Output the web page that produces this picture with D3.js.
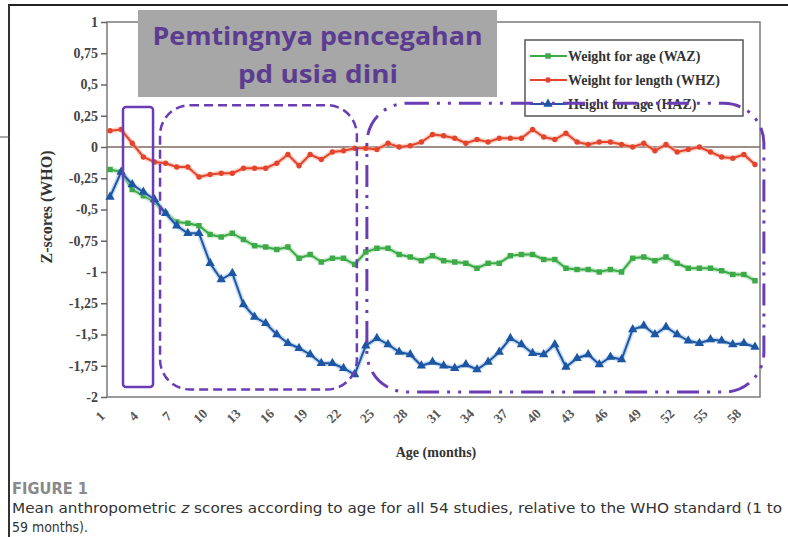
<!DOCTYPE html>
<html>
<head>
<meta charset="utf-8">
<script src="https://cdn.jsdelivr.net/npm/d3@7"></script>
<style>
  body { margin: 0; background: #fff; }
  svg { display: block; }
</style>
</head>
<body>
<div id="chart"></div>
<script>
// Mean anthropometric z scores by age, WHO standard (1 to 59 months)

var months = d3.range(1, 60);

var seriesNames = ["Weight for age (WAZ)", "Weight for length (WHZ)", "Height for age (HAZ)"];

var wazValues = [-0.18, -0.20, -0.34, -0.39, -0.44, -0.53, -0.60, -0.61, -0.63, -0.70,
  -0.72, -0.69, -0.74, -0.79, -0.80, -0.82, -0.80, -0.89, -0.86, -0.92,
  -0.89, -0.89, -0.94, -0.84, -0.81, -0.81, -0.86, -0.88, -0.91, -0.87,
  -0.91, -0.92, -0.93, -0.97, -0.93, -0.93, -0.87, -0.86, -0.86, -0.90,
  -0.90, -0.97, -0.98, -0.98, -1.00, -0.98, -1.00, -0.89, -0.88, -0.91,
  -0.88, -0.93, -0.97, -0.97, -0.97, -0.99, -1.02, -1.02, -1.07];

var whzValues = [0.13, 0.14, 0.03, -0.08, -0.12, -0.13, -0.16, -0.16, -0.24, -0.22,
  -0.21, -0.21, -0.17, -0.17, -0.17, -0.13, -0.06, -0.15, -0.06, -0.10,
  -0.04, -0.03, -0.01, -0.01, -0.02, 0.03, 0.00, 0.01, 0.04, 0.10,
  0.09, 0.07, 0.03, 0.06, 0.04, 0.07, 0.07, 0.07, 0.14, 0.08,
  0.06, 0.11, 0.04, 0.02, 0.04, 0.04, 0.02, 0.00, 0.03, -0.03,
  0.02, -0.04, -0.02, 0.00, -0.04, -0.08, -0.09, -0.06, -0.14];

var hazValues = [-0.40, -0.20, -0.30, -0.36, -0.42, -0.53, -0.63, -0.69, -0.69, -0.93,
  -1.06, -1.01, -1.26, -1.36, -1.41, -1.50, -1.57, -1.61, -1.66, -1.73,
  -1.73, -1.77, -1.82, -1.59, -1.53, -1.58, -1.64, -1.66, -1.75, -1.72,
  -1.75, -1.77, -1.74, -1.78, -1.72, -1.64, -1.53, -1.58, -1.65, -1.66,
  -1.58, -1.76, -1.69, -1.66, -1.74, -1.68, -1.70, -1.46, -1.43, -1.50,
  -1.44, -1.50, -1.55, -1.57, -1.54, -1.55, -1.58, -1.57, -1.60];

var yTicks = [1, 0.75, 0.5, 0.25, 0, -0.25, -0.5, -0.75, -1, -1.25, -1.5, -1.75, -2];
var yTickLabels = ["1", "0,75", "0,5", "0,25", "0", "-0,25", "-0,5", "-0,75", "-1", "-1,25", "-1,5", "-1,75", "-2"];
var xTickMonths = [1, 4, 7, 10, 13, 16, 19, 22, 25, 28, 31, 34, 37, 40, 43, 46, 49, 52, 55, 58];

var width = 788, height = 537;
var plot = {left: 107, right: 760, top: 22, bottom: 397};
var serif = "'Liberation Serif', 'Times New Roman', serif";
var purple = "#6a3db5";

var svg = d3.select("#chart")
  .append("svg")
    .attr("width", width)
    .attr("height", height);

// page frame pieces around the figure
svg.append("line").attr("x1", 8).attr("x2", width).attr("y1", 5).attr("y2", 5)
  .attr("stroke", "#222").attr("stroke-width", 2);
svg.append("line").attr("x1", 9).attr("x2", 9).attr("y1", 5).attr("y2", height)
  .attr("stroke", "#333").attr("stroke-width", 2);
svg.append("line").attr("x1", 0).attr("x2", 9).attr("y1", 137).attr("y2", 137)
  .attr("stroke", "#555").attr("stroke-width", 1);

// scales
var x = d3.scalePoint()
  .domain(months)
  .range([110, 755]);

var y = d3.scaleLinear()
  .domain([-2, 1])
  .range([plot.bottom, plot.top]);

// plot frame
svg.append("rect")
  .attr("x", plot.left).attr("y", plot.top)
  .attr("width", plot.right - plot.left).attr("height", plot.bottom - plot.top)
  .attr("fill", "none").attr("stroke", "#7a7a7a").attr("stroke-width", 1.5);

// zero line
svg.append("line")
  .attr("x1", plot.left).attr("x2", plot.right)
  .attr("y1", y(0)).attr("y2", y(0))
  .attr("stroke", "#7d6a60").attr("stroke-width", 1.5);

// y axis
var yAxis = svg.append("g")
  .attr("transform", "translate(" + plot.left + ",0)")
  .call(d3.axisLeft(y).tickValues(yTicks).tickSize(6).tickPadding(3)
    .tickFormat(function(d, i) { return yTickLabels[i]; }));
yAxis.select(".domain").remove();
yAxis.selectAll(".tick line").attr("stroke", "#666").attr("stroke-width", 1.5);
yAxis.selectAll(".tick text")
  .style("font-family", serif).style("font-size", "14px").style("font-weight", "bold")
  .attr("fill", "#444");

// x tick labels, rotated
svg.append("g").selectAll("text")
  .data(xTickMonths)
  .enter()
  .append("text")
    .attr("transform", function(d) { return "translate(" + (x(d) - 10) + ",416) rotate(-45)"; })
    .attr("text-anchor", "middle")
    .attr("dy", "0.35em")
    .style("font-family", serif).style("font-size", "13.5px").style("font-weight", "bold")
    .attr("fill", "#555")
    .text(function(d) { return d; });

// axis titles
svg.append("text")
  .attr("x", 436).attr("y", 457)
  .attr("text-anchor", "middle")
  .style("font-family", serif).style("font-size", "14px").style("font-weight", "bold")
  .attr("fill", "#333")
  .text("Age (months)");

svg.append("text")
  .attr("transform", "translate(52,207) rotate(-90)")
  .attr("text-anchor", "middle")
  .style("font-family", serif).style("font-size", "16px").style("font-weight", "bold")
  .attr("fill", "#333")
  .text("Z-scores (WHO)");

// series
var series = [
  {name: seriesNames[0], values: wazValues, color: "#3daa48", glow: "#a6dcaa", symbol: d3.symbolSquare, size: 30},
  {name: seriesNames[1], values: whzValues, color: "#e4442b", glow: "#f5b0a2", symbol: d3.symbolCircle, size: 22},
  {name: seriesNames[2], values: hazValues, color: "#1d56a3", glow: "#9fc2e8", symbol: d3.symbolTriangle, size: 38}
];

var line = d3.line()
  .x(function(d, i) { return x(months[i]); })
  .y(function(d) { return y(d); });

series.forEach(function(s) {
  var g = svg.append("g");
  g.append("path")
    .attr("d", line(s.values))
    .attr("fill", "none").attr("stroke", s.glow).attr("stroke-width", 5).attr("opacity", 0.6);
  g.append("path")
    .attr("d", line(s.values))
    .attr("fill", "none").attr("stroke", s.color).attr("stroke-width", 2);
  g.selectAll("path.pt")
    .data(s.values)
    .enter()
    .append("path")
      .attr("class", "pt")
      .attr("d", d3.symbol().type(s.symbol).size(s.size))
      .attr("transform", function(d, i) { return "translate(" + x(months[i]) + "," + y(d) + ")"; })
      .attr("fill", s.color);
});

// legend
var legend = svg.append("g");
legend.append("rect")
  .attr("x", 525).attr("y", 40).attr("width", 218).attr("height", 76)
  .attr("fill", "#fff").attr("stroke", "#555").attr("stroke-width", 1.5);
series.forEach(function(s, i) {
  var ly = 56 + i * 24;
  legend.append("line")
    .attr("x1", 530).attr("x2", 567).attr("y1", ly).attr("y2", ly)
    .attr("stroke", s.color).attr("stroke-width", 2);
  legend.append("path")
    .attr("d", d3.symbol().type(s.symbol).size(s.size))
    .attr("transform", "translate(548," + ly + ")")
    .attr("fill", s.color);
  legend.append("text")
    .attr("x", 568).attr("y", ly + 5)
    .style("font-family", serif).style("font-size", "14px").style("font-weight", "bold")
    .attr("fill", "#333")
    .text(s.name);
});

// purple annotation boxes (in months / z-score units)
function box(m0, m1, z0, z1, r, dash, sw) {
  svg.append("rect")
    .attr("x", x(1) + (m0 - 1) * x.step())
    .attr("y", y(z0))
    .attr("width", (m1 - m0) * x.step())
    .attr("height", y(z1) - y(z0))
    .attr("rx", r).attr("ry", r)
    .attr("fill", "none")
    .attr("stroke", purple)
    .attr("stroke-width", sw)
    .attr("stroke-dasharray", dash);
}
box(2.17, 4.87, 0.32, -1.92, 3, null, 2.5);
box(5.5, 23.2, 0.335, -1.94, 30, "9,5", 2.5);
box(24.1, 59.8, 0.35, -1.96, 40, "22,8,3,8,3,8", 3);

// gray callout
svg.append("rect")
  .attr("x", 138).attr("y", 10).attr("width", 359).attr("height", 87)
  .attr("fill", "#a7a7a7");
svg.append("text")
  .attr("x", 317.5).attr("y", 45)
  .attr("text-anchor", "middle")
  .attr("textLength", 330).attr("lengthAdjust", "spacingAndGlyphs")
  .style("font-family", "'Open Sans', sans-serif").style("font-size", "25px").style("font-weight", "bold")
  .attr("fill", "#5b3c90")
  .text("Pemtingnya pencegahan");
svg.append("text")
  .attr("x", 318).attr("y", 83)
  .attr("text-anchor", "middle")
  .attr("textLength", 160).attr("lengthAdjust", "spacingAndGlyphs")
  .style("font-family", "'Open Sans', sans-serif").style("font-size", "25px").style("font-weight", "bold")
  .attr("fill", "#5b3c90")
  .text("pd usia dini");

// caption
var sans = "'Liberation Sans Narrow', 'DejaVu Sans Condensed', 'Roboto', sans-serif";
svg.append("text")
  .attr("x", 12).attr("y", 494)
  .attr("textLength", 76).attr("lengthAdjust", "spacingAndGlyphs")
  .style("font-family", sans).style("font-size", "15px").style("font-weight", "bold")
  .attr("fill", "#8a8a8a")
  .text("FIGURE 1");

var cap = svg.append("text")
  .attr("x", 12).attr("y", 513)
  .attr("textLength", 770).attr("lengthAdjust", "spacingAndGlyphs")
  .style("font-family", sans).style("font-size", "14px")
  .attr("fill", "#333");
cap.append("tspan").text("Mean anthropometric ");
cap.append("tspan").style("font-style", "italic").text("z");
cap.append("tspan").text(" scores according to age for all 54 studies, relative to the WHO standard (1 to");

svg.append("text")
  .attr("x", 12).attr("y", 532)
  .attr("textLength", 76).attr("lengthAdjust", "spacingAndGlyphs")
  .style("font-family", sans).style("font-size", "14px")
  .attr("fill", "#333")
  .text("59 months).");
</script>
</body>
</html>
